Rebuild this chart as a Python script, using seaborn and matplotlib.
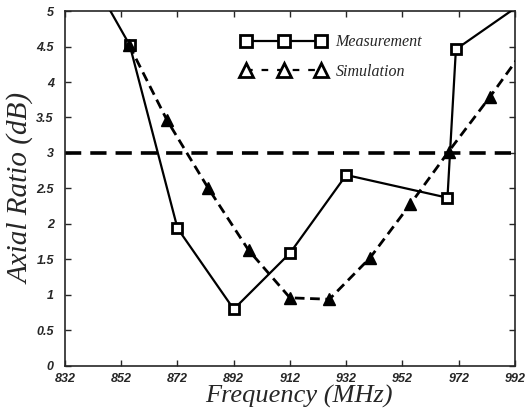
import pandas as pd
import matplotlib
matplotlib.use("Agg")
import matplotlib.pyplot as plt
from matplotlib.lines import Line2D
import seaborn as sns

# data
meas_freq = [842, 855, 872, 892, 912, 932, 968, 971, 1000]
meas_ar = [5.43, 4.52, 1.94, 0.80, 1.59, 2.69, 2.37, 4.46, 5.26]

sim_freq = [854.8, 868.3, 883.0, 897.3, 912.0, 926.0, 940.4, 954.8, 968.4, 983.1, 997.5]
sim_ar = [4.52, 3.46, 2.50, 1.63, 0.96, 0.94, 1.52, 2.28, 3.02, 3.79, 4.58]

threshold = 3
x_ticks = [832, 852, 872, 892, 912, 932, 952, 972, 992]
y_ticks = [0, 0.5, 1, 1.5, 2, 2.5, 3, 3.5, 4, 4.5, 5]
y_tick_labels = ["0", "0.5", "1", "1.5", "2", "2.5", "3", "3.5", "4", "4.5", "5"]

meas_df = pd.DataFrame({"Frequency": meas_freq, "AR": meas_ar})
sim_df = pd.DataFrame({"Frequency": sim_freq, "AR": sim_ar})

sns.set_style("ticks")
fig = plt.figure(figsize=(5.26, 4.2), dpi=100)
ax = fig.add_axes([0.1236, 0.1286, 0.8554, 0.8452])

# 3 dB reference line
ax.axhline(threshold, color="black", lw=2.6, ls=(0, (4.5, 2.5)), zorder=1)

sns.lineplot(data=meas_df, x="Frequency", y="AR", ax=ax, color="black", lw=1.6,
             marker="s", markersize=6.5, markerfacecolor="white", markeredgecolor="black",
             markeredgewidth=2.0, sort=False, zorder=3)
sns.lineplot(data=sim_df, x="Frequency", y="AR", ax=ax, color="black", lw=2.0,
             linestyle=(0, (3.5, 2)), marker="^", markersize=8, markerfacecolor="black",
             markeredgecolor="black", markeredgewidth=1, sort=False, zorder=3)

ax.set_xlim(832, 992)
ax.set_ylim(0, 5)
ax.set_xticks(x_ticks)
ax.set_yticks(y_ticks)
ax.set_yticklabels(y_tick_labels)
ax.tick_params(direction="in", top=True, right=True, length=4, width=1)
ax.tick_params(axis="x", pad=5)
ax.tick_params(axis="y", pad=8)
for lab in ax.get_xticklabels() + ax.get_yticklabels():
    lab.set_fontfamily("Liberation Sans")
    lab.set_fontweight("bold")
    lab.set_fontstyle("italic")
    lab.set_fontsize(9)
for sp in ax.spines.values():
    sp.set_linewidth(1.2)

ax.set_xlabel("Frequency (MHz)", family="Liberation Serif", style="italic", fontsize=19)
ax.set_ylabel("Axial Ratio (dB)", family="Liberation Serif", style="italic", fontsize=21)
ax.xaxis.set_label_coords(0.52, -0.054)
ax.yaxis.set_label_coords(-0.067, 0.5)

handles = [
    Line2D([], [], color="black", lw=1.6, marker="s", markersize=9, markerfacecolor="white",
           markeredgewidth=2),
    Line2D([], [], color="black", lw=1.6, ls=(0, (3, 4)), marker="^", markersize=10,
           markerfacecolor="white", markeredgewidth=2),
]
leg = ax.legend(handles, ["Measurement", "Simulation"], loc="upper left",
                bbox_to_anchor=(0.36, 0.975), frameon=False, numpoints=3, handlelength=5.3,
                labelspacing=0.85, handletextpad=0.6,
                prop={"family": "Liberation Serif", "style": "italic", "size": 11.5})

fig.savefig("out.png", dpi=100)
